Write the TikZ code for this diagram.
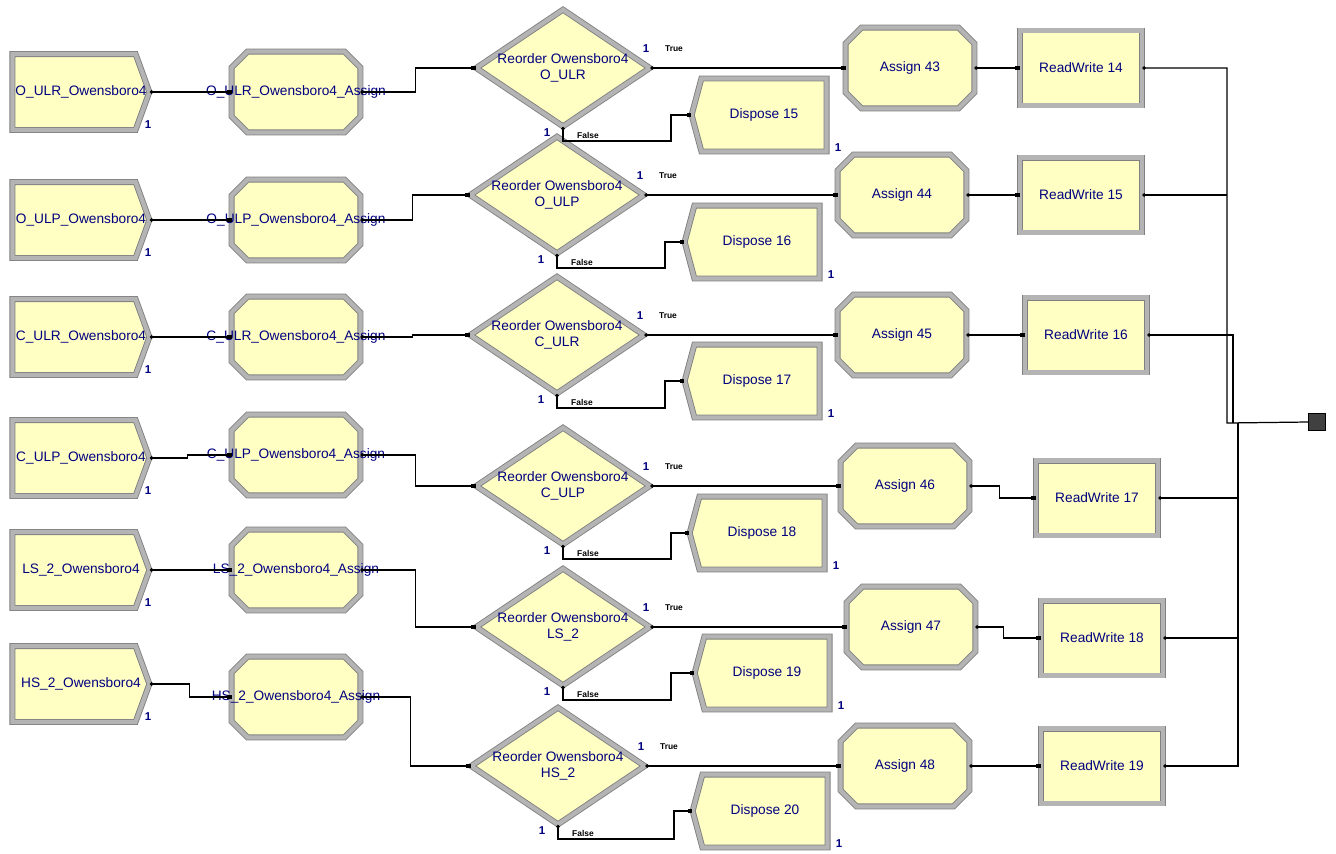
\documentclass[tikz,border=0pt]{standalone}
\usepackage{fontspec}
\setmainfont{Liberation Sans}
\usetikzlibrary{shapes.geometric,shapes.symbols,arrows.meta}

\definecolor{modfill}{RGB}{255,255,196}
\definecolor{modtext}{RGB}{0,0,128}
\definecolor{modedge}{RGB}{128,128,128}
\definecolor{modband}{RGB}{180,180,180}
\definecolor{sinkfill}{RGB}{64,64,64}
\newcommand{\wide}[1]{\makebox[0pt]{#1}}
\newcommand{\srcname}[1]{\makebox[0pt]{\hspace{0.28cm}#1}}
\newcommand{\octcut}{0.32cm}

% octagon box for the assign modules
\makeatletter
\pgfdeclareshape{octbox}{
  \inheritsavedanchors[from=rectangle]
  \inheritanchorborder[from=rectangle]
  \inheritanchor[from=rectangle]{center}
  \inheritanchor[from=rectangle]{north}
  \inheritanchor[from=rectangle]{south}
  \inheritanchor[from=rectangle]{east}
  \inheritanchor[from=rectangle]{west}
  \inheritanchor[from=rectangle]{north east}
  \inheritanchor[from=rectangle]{north west}
  \inheritanchor[from=rectangle]{south east}
  \inheritanchor[from=rectangle]{south west}
  \inheritanchor[from=rectangle]{mid}
  \inheritanchor[from=rectangle]{base}
  \backgroundpath{
    \southwest \edef\octxa{\the\pgf@x}\edef\octya{\the\pgf@y}
    \northeast \edef\octxb{\the\pgf@x}\edef\octyb{\the\pgf@y}
    \pgfpathmoveto{\pgfpoint{\octxa}{\octya+\octcut}}
    \pgfpathlineto{\pgfpoint{\octxa+\octcut}{\octya}}
    \pgfpathlineto{\pgfpoint{\octxb-\octcut}{\octya}}
    \pgfpathlineto{\pgfpoint{\octxb}{\octya+\octcut}}
    \pgfpathlineto{\pgfpoint{\octxb}{\octyb-\octcut}}
    \pgfpathlineto{\pgfpoint{\octxb-\octcut}{\octyb}}
    \pgfpathlineto{\pgfpoint{\octxa+\octcut}{\octyb}}
    \pgfpathlineto{\pgfpoint{\octxa}{\octyb-\octcut}}
    \pgfpathclose
  }
}
\makeatother

\begin{document}
\begin{tikzpicture}[x=0.02cm, y=-0.02cm, inner sep=0pt]
	\tikzstyle{module}=[draw=modedge, double=modband, double distance=2.4pt, line width=0.5pt, fill=modfill, text=modtext, font=\fontsize{7.8}{9.2}\selectfont, align=center]
	\tikzstyle{create}=[module, signal, signal to=east, signal pointer angle=140, minimum width=2.74cm, minimum height=1.52cm]
	\tikzstyle{setter}=[module, octbox, minimum width=2.56cm, minimum height=1.6cm]
	\tikzstyle{decide}=[module, diamond, minimum width=3.48cm, minimum height=2.34cm]
	\tikzstyle{dispose}=[module, signal, signal to=west, signal pointer angle=150, minimum width=2.7cm, minimum height=1.46cm]
	\tikzstyle{readwrite}=[module, rectangle, minimum width=2.44cm, minimum height=1.5cm]
	\tikzstyle{sink}=[draw=black, fill=sinkfill, line width=0.5pt, minimum size=0.34cm]
	\tikzstyle{count}=[text=modtext, font=\fontsize{6.5}{7}\bfseries\selectfont]
	\tikzstyle{branch}=[font=\fontsize{4.8}{5}\bfseries\selectfont]
	\tikzstyle{conn}=[line width=0.7pt, {Circle[length=2pt]}-{Square[length=2.4pt,width=2.4pt]}]
	\tikzstyle{wire}=[line width=0.7pt]

	\useasboundingbox (0,0) rectangle (1336,853);

	% create modules
	\node[create] (src1) at (74,92) {\srcname{O\_ULR\_Owensboro4}};
	\node[create] (src2) at (74,220) {\srcname{O\_ULP\_Owensboro4}};
	\node[create] (src3) at (74,337) {\srcname{C\_ULR\_Owensboro4}};
	\node[create] (src4) at (74,458) {\srcname{C\_ULP\_Owensboro4}};
	\node[create] (src5) at (74,570) {\srcname{LS\_2\_Owensboro4}};
	\node[create] (src6) at (74,684) {\srcname{HS\_2\_Owensboro4}};

	% assign modules
	\node[setter] (set1) at (296,92) {\wide{O\_ULR\_Owensboro4\_Assign}};
	\node[setter] (set2) at (296,220) {\wide{O\_ULP\_Owensboro4\_Assign}};
	\node[setter] (set3) at (296,337) {\wide{C\_ULR\_Owensboro4\_Assign}};
	\node[setter] (set4) at (296,455) {\wide{C\_ULP\_Owensboro4\_Assign}};
	\node[setter] (set5) at (296,570) {\wide{LS\_2\_Owensboro4\_Assign}};
	\node[setter] (set6) at (296,697) {\wide{HS\_2\_Owensboro4\_Assign}};

	% decide modules
	\node[decide] (dec1) at (563,68) {\wide{Reorder Owensboro4}\\\wide{O\_ULR}};
	\node[decide] (dec2) at (557,195) {\wide{Reorder Owensboro4}\\\wide{O\_ULP}};
	\node[decide] (dec3) at (557,335) {\wide{Reorder Owensboro4}\\\wide{C\_ULR}};
	\node[decide] (dec4) at (563,486) {\wide{Reorder Owensboro4}\\\wide{C\_ULP}};
	\node[decide] (dec5) at (563,627) {\wide{Reorder Owensboro4}\\\wide{LS\_2}};
	\node[decide] (dec6) at (558,766) {\wide{Reorder Owensboro4}\\\wide{HS\_2}};

	% dispose modules
	\node[dispose] (disp15) at (764,115) {\wide{Dispose 15}};
	\node[dispose] (disp16) at (757,242) {\wide{Dispose 16}};
	\node[dispose] (disp17) at (757,381) {\wide{Dispose 17}};
	\node[dispose] (disp18) at (762,533) {\wide{Dispose 18}};
	\node[dispose] (disp19) at (767,673) {\wide{Dispose 19}};
	\node[dispose] (disp20) at (765,811) {\wide{Dispose 20}};

	% assign and readwrite modules
	\node[setter] (asg43) at (910,68) {\wide{Assign 43}};
	\node[setter] (asg44) at (902,195) {\wide{Assign 44}};
	\node[setter] (asg45) at (902,335) {\wide{Assign 45}};
	\node[setter] (asg46) at (905,486) {\wide{Assign 46}};
	\node[setter] (asg47) at (911,627) {\wide{Assign 47}};
	\node[setter] (asg48) at (905,766) {\wide{Assign 48}};

	\node[readwrite] (rw14) at (1081,68) {\wide{ReadWrite 14}};
	\node[readwrite] (rw15) at (1081,195) {\wide{ReadWrite 15}};
	\node[readwrite] (rw16) at (1086,335) {\wide{ReadWrite 16}};
	\node[readwrite] (rw17) at (1097,498) {\wide{ReadWrite 17}};
	\node[readwrite] (rw18) at (1102,638) {\wide{ReadWrite 18}};
	\node[readwrite] (rw19) at (1102,766) {\wide{ReadWrite 19}};

	\node[sink] (sink) at (1317,422) {};
	\coordinate (busA) at (1227,423);
	\coordinate (busB) at (1233,423);
	\coordinate (busC) at (1238,423);

	% small marks
	\node[count] (src1-n) at ([shift={(74,33)}]src1.center) {1};
	\node[count] (src2-n) at ([shift={(74,33)}]src2.center) {1};
	\node[count] (src3-n) at ([shift={(74,33)}]src3.center) {1};
	\node[count] (src4-n) at ([shift={(74,33)}]src4.center) {1};
	\node[count] (src5-n) at ([shift={(74,33)}]src5.center) {1};
	\node[count] (src6-n) at ([shift={(74,33)}]src6.center) {1};

	\node[count] (dec1-t) at ([shift={(83,-19)}]dec1.center) {1};
	\node[count] (dec2-t) at ([shift={(83,-19)}]dec2.center) {1};
	\node[count] (dec3-t) at ([shift={(83,-19)}]dec3.center) {1};
	\node[count] (dec4-t) at ([shift={(83,-19)}]dec4.center) {1};
	\node[count] (dec5-t) at ([shift={(83,-19)}]dec5.center) {1};
	\node[count] (dec6-t) at ([shift={(83,-19)}]dec6.center) {1};
	\node[count] (dec1-f) at ([shift={(-16,65)}]dec1.center) {1};
	\node[count] (dec2-f) at ([shift={(-16,65)}]dec2.center) {1};
	\node[count] (dec3-f) at ([shift={(-16,65)}]dec3.center) {1};
	\node[count] (dec4-f) at ([shift={(-16,65)}]dec4.center) {1};
	\node[count] (dec5-f) at ([shift={(-16,65)}]dec5.center) {1};
	\node[count] (dec6-f) at ([shift={(-16,65)}]dec6.center) {1};

	\node[count] (disp15-n) at ([shift={(74,33)}]disp15.center) {1};
	\node[count] (disp16-n) at ([shift={(74,33)}]disp16.center) {1};
	\node[count] (disp17-n) at ([shift={(74,33)}]disp17.center) {1};
	\node[count] (disp18-n) at ([shift={(74,33)}]disp18.center) {1};
	\node[count] (disp19-n) at ([shift={(74,33)}]disp19.center) {1};
	\node[count] (disp20-n) at ([shift={(74,33)}]disp20.center) {1};

	\node[branch] (dec1-true) at ([shift={(111,-19)}]dec1.center) {True};
	\node[branch] (dec2-true) at ([shift={(111,-19)}]dec2.center) {True};
	\node[branch] (dec3-true) at ([shift={(111,-19)}]dec3.center) {True};
	\node[branch] (dec4-true) at ([shift={(111,-19)}]dec4.center) {True};
	\node[branch] (dec5-true) at ([shift={(111,-19)}]dec5.center) {True};
	\node[branch] (dec6-true) at ([shift={(111,-19)}]dec6.center) {True};
	\node[branch] (dec1-false) at ([shift={(25,67)}]dec1.center) {False};
	\node[branch] (dec2-false) at ([shift={(25,67)}]dec2.center) {False};
	\node[branch] (dec3-false) at ([shift={(25,67)}]dec3.center) {False};
	\node[branch] (dec4-false) at ([shift={(25,67)}]dec4.center) {False};
	\node[branch] (dec5-false) at ([shift={(25,67)}]dec5.center) {False};
	\node[branch] (dec6-false) at ([shift={(25,67)}]dec6.center) {False};

	% connectors
	\draw[conn] (src1.east) -- (set1.west);
	\draw[conn] (src2.east) -- (set2.west);
	\draw[conn] (src3.east) -- (set3.west);
	\draw[conn] (src4.east) -- ++(38,0) |- (set4.west);
	\draw[conn] (src5.east) -- (set5.west);
	\draw[conn] (src6.east) -- ++(40,0) |- (set6.west);

	\draw[conn] (set1.east) -- ++(55,0) |- (dec1.west);
	\draw[conn] (set2.east) -- ++(52,0) |- (dec2.west);
	\draw[conn] (set3.east) -- ++(52,0) |- (dec3.west);
	\draw[conn] (set4.east) -- ++(55,0) |- (dec4.west);
	\draw[conn] (set5.east) -- ++(55,0) |- (dec5.west);
	\draw[conn] (set6.east) -- ++(50,0) |- (dec6.west);

	\draw[conn] (dec1.east) -- (asg43.west);
	\draw[conn] (dec2.east) -- (asg44.west);
	\draw[conn] (dec3.east) -- (asg45.west);
	\draw[conn] (dec4.east) -- (asg46.west);
	\draw[conn] (dec5.east) -- (asg47.west);
	\draw[conn] (dec6.east) -- (asg48.west);

	\draw[conn] (dec1.south) |- ++(108,14) |- (disp15.west);
	\draw[conn] (dec2.south) |- ++(108,14) |- (disp16.west);
	\draw[conn] (dec3.south) |- ++(108,14) |- (disp17.west);
	\draw[conn] (dec4.south) |- ++(108,14) |- (disp18.west);
	\draw[conn] (dec5.south) |- ++(108,14) |- (disp19.west);
	\draw[conn] (dec6.south) |- ++(116,14) |- (disp20.west);

	\draw[conn] (asg43.east) -- (rw14.west);
	\draw[conn] (asg44.east) -- (rw15.west);
	\draw[conn] (asg45.east) -- (rw16.west);
	\draw[conn] (asg46.east) -- ++(30,0) |- (rw17.west);
	\draw[conn] (asg47.east) -- ++(28,0) |- (rw18.west);
	\draw[conn] (asg48.east) -- (rw19.west);

	\draw[wire, {Circle[length=2pt]}-] (rw14.east) -| (busA) -- (sink.west);
	\draw[wire, {Circle[length=2pt]}-] (rw15.east) -- (rw15.east -| busA);
	\draw[wire, {Circle[length=2pt]}-] (rw16.east) -| (busB);
	\draw[wire, {Circle[length=2pt]}-] (rw17.east) -- (rw17.east -| busC);
	\draw[wire, {Circle[length=2pt]}-] (rw18.east) -- (rw18.east -| busC);
	\draw[wire, {Circle[length=2pt]}-] (rw19.east) -| (busC);
	\draw[wire, line width=1.2pt] (busC) -- (rw19.east -| busC);
\end{tikzpicture}
\end{document}
